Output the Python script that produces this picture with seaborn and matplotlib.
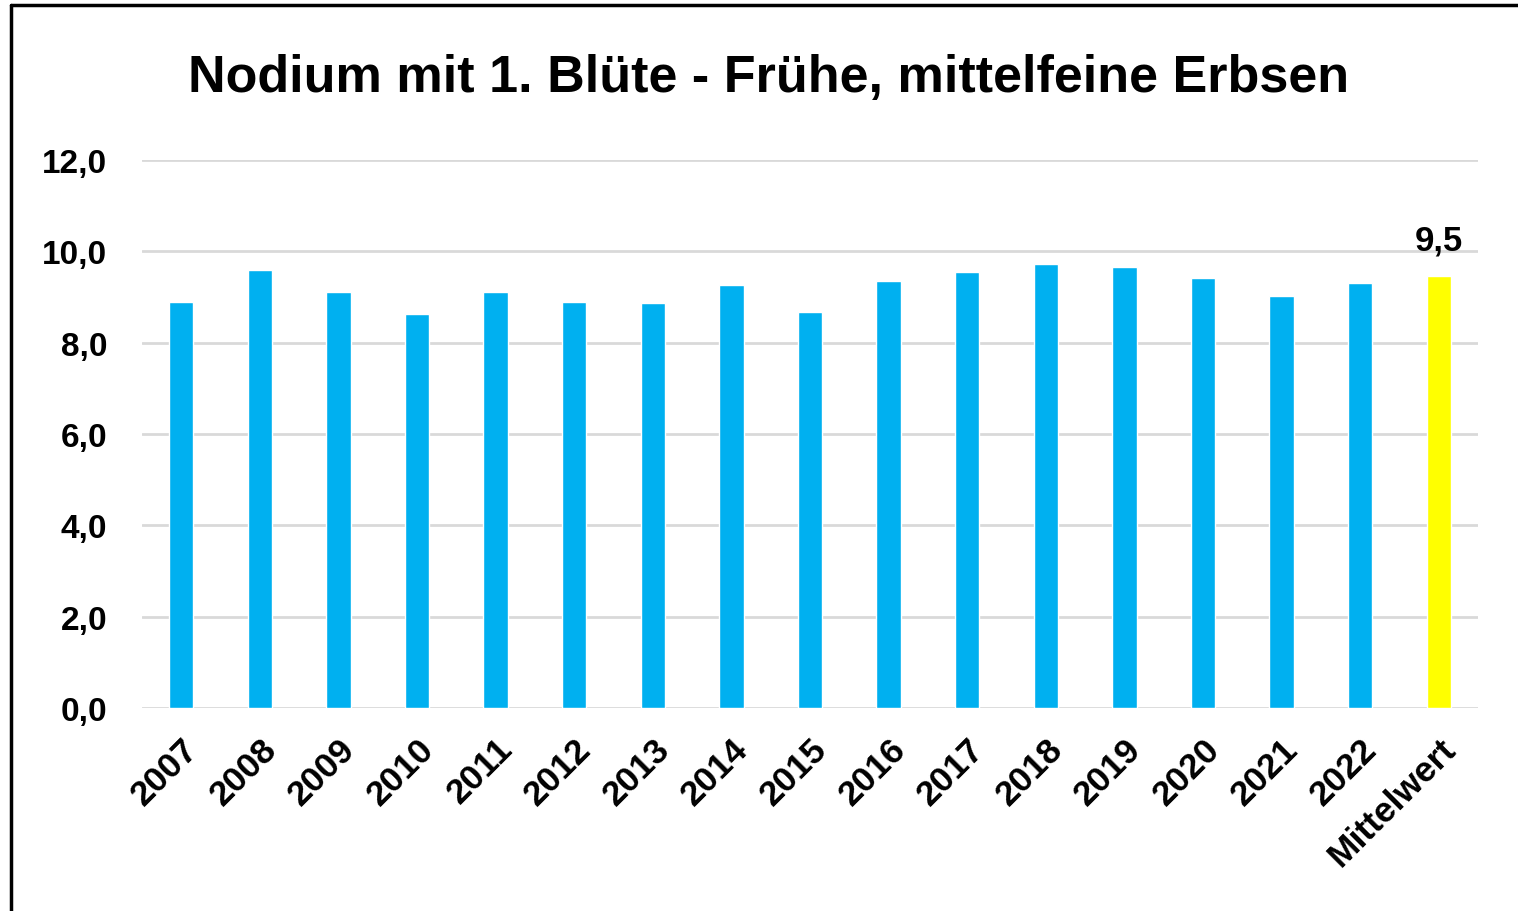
import matplotlib
matplotlib.use("Agg")
import matplotlib.pyplot as plt
from matplotlib.lines import Line2D
import seaborn as sns
import pandas as pd

categories = ["2007", "2008", "2009", "2010", "2011", "2012", "2013", "2014",
              "2015", "2016", "2017", "2018", "2019", "2020", "2021", "2022",
              "Mittelwert"]
values = [8.9, 9.6, 9.1, 8.63, 9.1, 8.9, 8.86, 9.26, 8.67, 9.35, 9.55, 9.73,
          9.65, 9.42, 9.03, 9.3, 9.47]
bar_colors = ["#00B0F0"] * 16 + ["#FFFF00"]
title = "Nodium mit 1. Blüte - Frühe, mittelfeine Erbsen"
yticks = [0, 2, 4, 6, 8, 10, 12]
ytick_labels = ["0,0", "2,0", "4,0", "6,0", "8,0", "10,0", "12,0"]
mean_label = "9,5"

sns.set_theme(style="white")
plt.rcParams["font.family"] = ["Liberation Sans", "DejaVu Sans"]
plt.rcParams["text.color"] = "black"
plt.rcParams["xtick.color"] = "black"
plt.rcParams["ytick.color"] = "black"

df = pd.DataFrame({"cat": categories, "val": values})

fig = plt.figure(figsize=(15.18, 9.12), dpi=100)
ax = fig.add_axes([142 / 1518, 1 - 709 / 912, (1478 - 142) / 1518, (709 - 161) / 912])

sns.barplot(data=df, x="cat", y="val", hue="cat", palette=bar_colors,
            width=0.31, legend=False, ax=ax, saturation=1)

ax.set_xlim(-0.5, len(categories) - 0.5)
ax.set_ylim(0, 12)
ax.set_yticks(yticks)
ax.set_yticklabels(ytick_labels, fontsize=24, fontweight="bold", color="black")
ax.yaxis.grid(True, color="#D9D9D9", linewidth=2.0)
ax.set_axisbelow(True)
for s in ax.spines.values():
    s.set_visible(False)
ax.tick_params(axis="both", length=0)
ax.tick_params(axis="y", pad=25)
ax.set_xlabel("")
ax.set_ylabel("")
ax.set_xticks(range(len(categories)))
ax.set_xticklabels(categories, rotation=45, ha="right", rotation_mode="anchor",
                   fontsize=25.5, fontweight="bold", color="black")
ax.tick_params(axis="x", pad=17)

# data label on mean bar
ax.bar_label(ax.containers[-1], labels=[mean_label], padding=14,
             fontsize=25, fontweight="bold", color="black")

fig.text(0.506, 1 - 79 / 912, title, ha="center", va="center",
         fontsize=37.5, fontweight="bold", color="black")

# outer frame
fig.add_artist(Line2D([11 / 1518, 11 / 1518], [0, 1 - 6 / 912], color="black",
                      linewidth=2.5, transform=fig.transFigure))
fig.add_artist(Line2D([11 / 1518, 1], [1 - 6 / 912, 1 - 6 / 912], color="black",
                      linewidth=2.5, transform=fig.transFigure))

fig.savefig("out.png", dpi=100, facecolor="white")
